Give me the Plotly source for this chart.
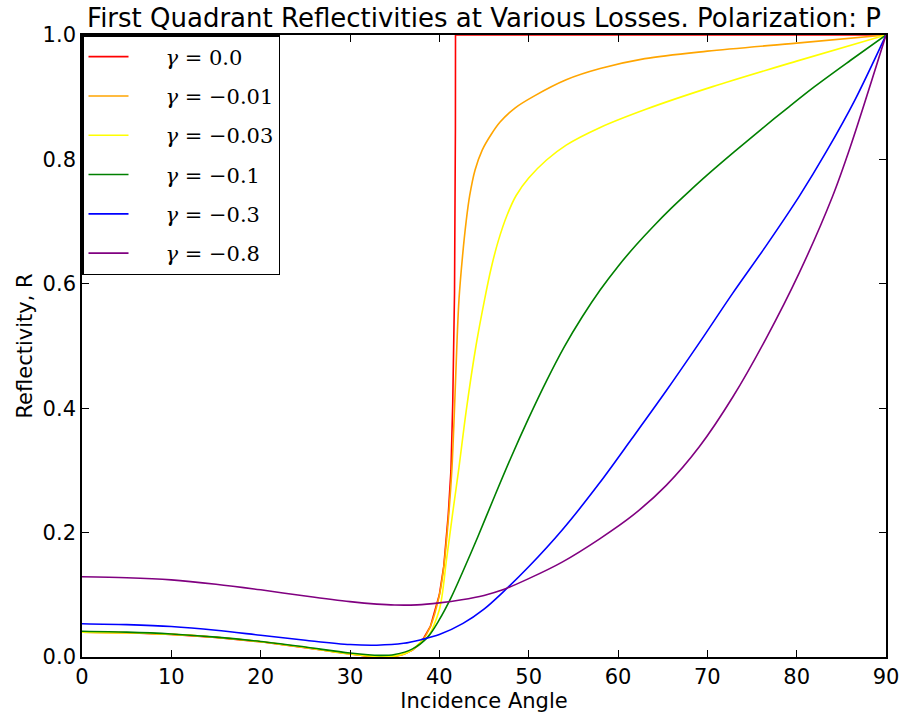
import plotly.graph_objects as go

# ---- data (angle in degrees, reflectivity R) ----
red_x = [0, 5, 10, 15, 20, 25, 30, 32, 33.7, 35, 36, 37, 38, 39, 40, 40.5, 41, 41.3, 41.5, 41.6, 41.7, 41.8, 41.81, 50, 60, 70, 80, 90]
red_y = [0.040, 0.039, 0.0363, 0.0315, 0.0244, 0.0151, 0.0046, 0.0013, 0.0, 0.0012, 0.0044, 0.0113, 0.0243, 0.049, 0.100, 0.146, 0.229, 0.30, 0.407, 0.48, 0.585, 0.85, 1.0, 1.0, 1.0, 1.0, 1.0, 1.0]

orange_x = [0, 5, 10, 15, 20, 25, 30, 32, 33.7, 35, 36, 37, 38, 39, 40, 40.5, 41, 41.4, 41.7, 42.0, 42.2, 42.6, 43.0, 43.4, 44.0, 44.8, 45.8, 46.8, 48.5, 50.5, 54.2, 58, 63, 70, 80, 90]
orange_y = [0.040, 0.039, 0.0363, 0.0315, 0.0244, 0.0152, 0.0047, 0.0014, 0.0002, 0.0013, 0.0045, 0.0114, 0.0244, 0.049, 0.099, 0.145, 0.22, 0.30, 0.40, 0.515, 0.575, 0.645, 0.70, 0.742, 0.783, 0.815, 0.840, 0.860, 0.883, 0.901, 0.928, 0.946, 0.962, 0.974, 0.987, 1.0]

yellow_x = [0, 5, 10, 15, 20, 25, 30, 32, 33.7, 35, 36, 37, 38, 38.7, 40, 40.8, 41.5, 42.2, 43.0, 44.1, 45.07, 45.8, 46.6, 47.6, 48.6, 50, 52, 54.2, 57.95, 63.2, 70.6, 80, 90]
yellow_y = [0.040, 0.039, 0.0365, 0.0317, 0.0246, 0.0155, 0.0051, 0.0019, 0.0006, 0.0018, 0.0050, 0.0120, 0.0250, 0.032, 0.076, 0.156, 0.232, 0.305, 0.395, 0.50, 0.575, 0.625, 0.669, 0.711, 0.742, 0.770, 0.799, 0.823, 0.851, 0.881, 0.917, 0.958, 1.0]

green_x = [0, 5, 10, 15, 20, 25, 30, 33.3, 35, 37, 38.7, 40, 41.3, 42.5, 44.3, 46, 48, 50, 52, 54, 56, 58, 60, 62, 64, 66, 68, 70, 73, 76, 79, 82, 86, 90]
green_y = [0.0415, 0.040, 0.037, 0.032, 0.025, 0.016, 0.0064, 0.0026, 0.004, 0.013, 0.032, 0.060, 0.095, 0.133, 0.193, 0.252, 0.32, 0.384, 0.444, 0.499, 0.547, 0.59, 0.628, 0.662, 0.693, 0.722, 0.749, 0.775, 0.812, 0.848, 0.883, 0.917, 0.959, 1.0]

blue_x = [0, 5, 10, 15, 20, 25, 30, 33, 36, 38, 40, 42.65, 45, 47.1, 50, 53.8, 57.95, 61.5, 65.4, 69.1, 72.85, 76.57, 80.3, 83.3, 86.5, 90]
blue_y = [0.0535, 0.052, 0.049, 0.043, 0.035, 0.027, 0.020, 0.019, 0.022, 0.028, 0.036, 0.054, 0.077, 0.104, 0.145, 0.205, 0.28, 0.35, 0.428, 0.505, 0.585, 0.661, 0.741, 0.812, 0.895, 1.0]

purple_x = [0, 5, 10, 15, 20, 25, 30, 33, 35, 37.5, 40, 42.5, 45, 47.1, 50, 53.8, 57.95, 61.68, 65.4, 69.1, 72.85, 76.57, 80.3, 84, 86, 90]
purple_y = [0.129, 0.1275, 0.124, 0.117, 0.108, 0.098, 0.089, 0.085, 0.0835, 0.0838, 0.087, 0.092, 0.099, 0.108, 0.126, 0.153, 0.19, 0.228, 0.276, 0.338, 0.418, 0.512, 0.618, 0.74, 0.82, 1.0]

gamma_values = ["0.0", "−0.01", "−0.03", "−0.1", "−0.3", "−0.8"]
colors = ["#FF0000", "#FFA500", "#FFFF00", "#008000", "#0000FF", "#800080"]
xs = [red_x, orange_x, yellow_x, green_x, blue_x, purple_x]
ys = [red_y, orange_y, yellow_y, green_y, blue_y, purple_y]
shapes = ["linear", "spline", "spline", "spline", "spline", "spline"]

title_text = "First Quadrant Reflectivities at Various Losses. Polarization: P"
x_ticks = [0, 10, 20, 30, 40, 50, 60, 70, 80, 90]
y_ticks = [0.0, 0.2, 0.4, 0.6, 0.8, 1.0]

fig = go.Figure()
for i, (x, y, g, col, sh) in enumerate(zip(xs, ys, gamma_values, colors, shapes)):
    fig.add_trace(go.Scatter(
        x=x, y=y, mode="lines",
        name="&nbsp;&nbsp;&nbsp;&nbsp;&#8197;<i>γ</i> = " + g,
        legendgroup=f"g{i}",
        line=dict(color=col, width=1.6, shape=sh, smoothing=0.9),
        cliponaxis=False,
    ))

axis_common = dict(
    showline=True, linecolor="black", linewidth=1.6, mirror="allticks",
    ticks="inside", ticklen=7, tickwidth=1.2, tickcolor="black",
    showgrid=False, zeroline=False, automargin=False,
    tickfont=dict(family="DejaVu Sans", size=21, color="black"),
)

fig.update_layout(
    width=904, height=714,
    margin=dict(l=82, r=18, t=35, b=57),
    plot_bgcolor="white", paper_bgcolor="white",
    font=dict(family="DejaVu Sans", size=21, color="black"),
    title=dict(text=title_text, x=0.5, xref="paper", xanchor="center",
               y=0.975, yref="container", yanchor="middle",
               font=dict(family="DejaVu Sans", size=26, color="black")),
    xaxis=dict(range=[0, 90], tickvals=x_ticks, ticktext=[str(v) for v in x_ticks],
               title=dict(text="Incidence Angle", standoff=4,
                          font=dict(family="DejaVu Sans", size=21)),
               **axis_common),
    yaxis=dict(range=[0, 1], tickvals=y_ticks, ticktext=[f"{v:.1f}" for v in y_ticks],
               title=dict(text="Reflectivity, R", standoff=4,
                          font=dict(family="DejaVu Sans", size=21)),
               **axis_common),
    legend=dict(x=0, y=1, xanchor="left", yanchor="top",
                bgcolor="white", bordercolor="black", borderwidth=1.5,
                font=dict(family="DejaVu Serif", size=21, color="black"),
                tracegroupgap=9, itemwidth=40),
    showlegend=True,
)

fig.write_html("out.html", config={"displayModeBar": False},
               post_script="document.body.style.margin='0';document.body.style.padding='0';")
